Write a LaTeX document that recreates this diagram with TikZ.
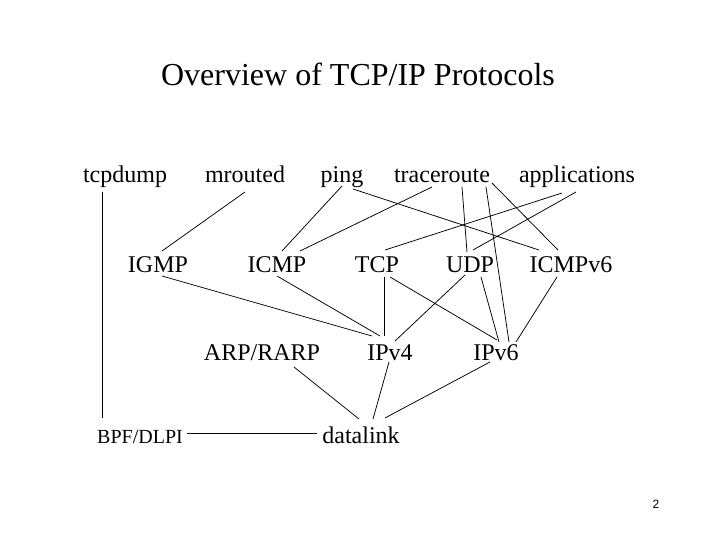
\documentclass[tikz,border=0pt]{standalone}
\usepackage{fontspec}
\setmainfont{Liberation Serif}
\newfontfamily\pagenumfont{Liberation Sans}
\begin{document}
\begin{tikzpicture}[x=1pt,y=-1pt,
  lbl/.style={anchor=base,inner sep=0pt,font=\fontsize{24}{28}\selectfont},
  small/.style={anchor=base,inner sep=0pt,font=\fontsize{20}{24}\selectfont},
  conn/.style={line width=0.75pt,black}]
\useasboundingbox (0,0) rectangle (720,540);
\fill[white] (0,0) rectangle (720,540);
\node[anchor=base,inner sep=0pt,font=\fontsize{32}{38}\selectfont] (title) at (358,86) {Overview of TCP/IP Protocols};
\node[lbl] (tcpdump) at (125,183) {tcpdump};
\node[lbl] (mrouted) at (245,183) {mrouted};
\node[lbl] (ping) at (342,183) {ping};
\node[lbl] (traceroute) at (442,183) {traceroute};
\node[lbl] (apps) at (577,183) {applications};
\node[lbl] (igmp) at (158,272) {IGMP};
\node[lbl] (icmp) at (277,272) {ICMP};
\node[lbl] (tcp) at (377,272) {TCP};
\node[lbl] (udp) at (470,272) {UDP};
\node[lbl] (icmpv6) at (571,272) {ICMPv6};
\node[lbl] (arp) at (262,360) {ARP/RARP};
\node[lbl] (ipv4) at (390,360) {IPv4};
\node[lbl] (ipv6) at (496,360) {IPv6};
\node[small] (bpf) at (140,443) {BPF/DLPI};
\node[lbl] (datalink) at (361,443) {datalink};
\node[anchor=base,inner sep=0pt,font=\pagenumfont\fontsize{12}{14}\selectfont] (pnum) at (656,508) {2};
\draw[conn] ([shift={(-23,9)}]tcpdump.base) -- ([shift={(-38,-25)}]bpf.base);
\draw[conn] ([shift={(0,9)}]mrouted.base) -- ([shift={(4,-21)}]igmp.base);
\draw[conn] ([shift={(0,3)}]ping.base) -- ([shift={(5,-21)}]icmp.base);
\draw[conn] ([shift={(-10,4)}]traceroute.base) -- ([shift={(23,-21)}]icmp.base);
\draw[conn] ([shift={(11,6)}]ping.base) -- ([shift={(-32,-22)}]icmpv6.base);
\draw[conn] ([shift={(20,4)}]traceroute.base) -- ([shift={(-3,-20)}]udp.base);
\draw[conn] ([shift={(44,4)}]traceroute.base) -- ([shift={(13,-18)}]ipv6.base);
\draw[conn] ([shift={(50,0)}]traceroute.base) -- ([shift={(-13,-22)}]icmpv6.base);
\draw[conn] ([shift={(-15,10)}]apps.base) -- ([shift={(8,-22)}]tcp.base);
\draw[conn] ([shift={(-1,9)}]apps.base) -- ([shift={(3,-22)}]udp.base);
\draw[conn] ([shift={(11,5)}]udp.base) -- ([shift={(3,-18)}]ipv6.base);
\draw[conn] ([shift={(-14,5)}]icmpv6.base) -- ([shift={(20,-18)}]ipv6.base);
\draw[conn] ([shift={(7,5)}]tcp.base) -- ([shift={(-6,-24)}]ipv4.base);
\draw[conn] ([shift={(13,5)}]tcp.base) -- ([shift={(1,-20)}]ipv6.base);
\draw[conn] ([shift={(-5,3)}]udp.base) -- ([shift={(5,-19)}]ipv4.base);
\draw[conn] ([shift={(4,4)}]igmp.base) -- ([shift={(-18,-24)}]ipv4.base);
\draw[conn] ([shift={(0,4)}]icmp.base) -- ([shift={(-10,-24)}]ipv4.base);
\draw[conn] ([shift={(32,7)}]arp.base) -- ([shift={(-2,-24)}]datalink.base);
\draw[conn] ([shift={(-1,2)}]ipv4.base) -- ([shift={(12,-24)}]datalink.base);
\draw[conn] ([shift={(-6,2)}]ipv6.base) -- ([shift={(24,-25)}]datalink.base);
\draw[conn] ([shift={(47,-10)}]bpf.base) -- ([shift={(-44,-10)}]datalink.base);
\end{tikzpicture}
\end{document}
